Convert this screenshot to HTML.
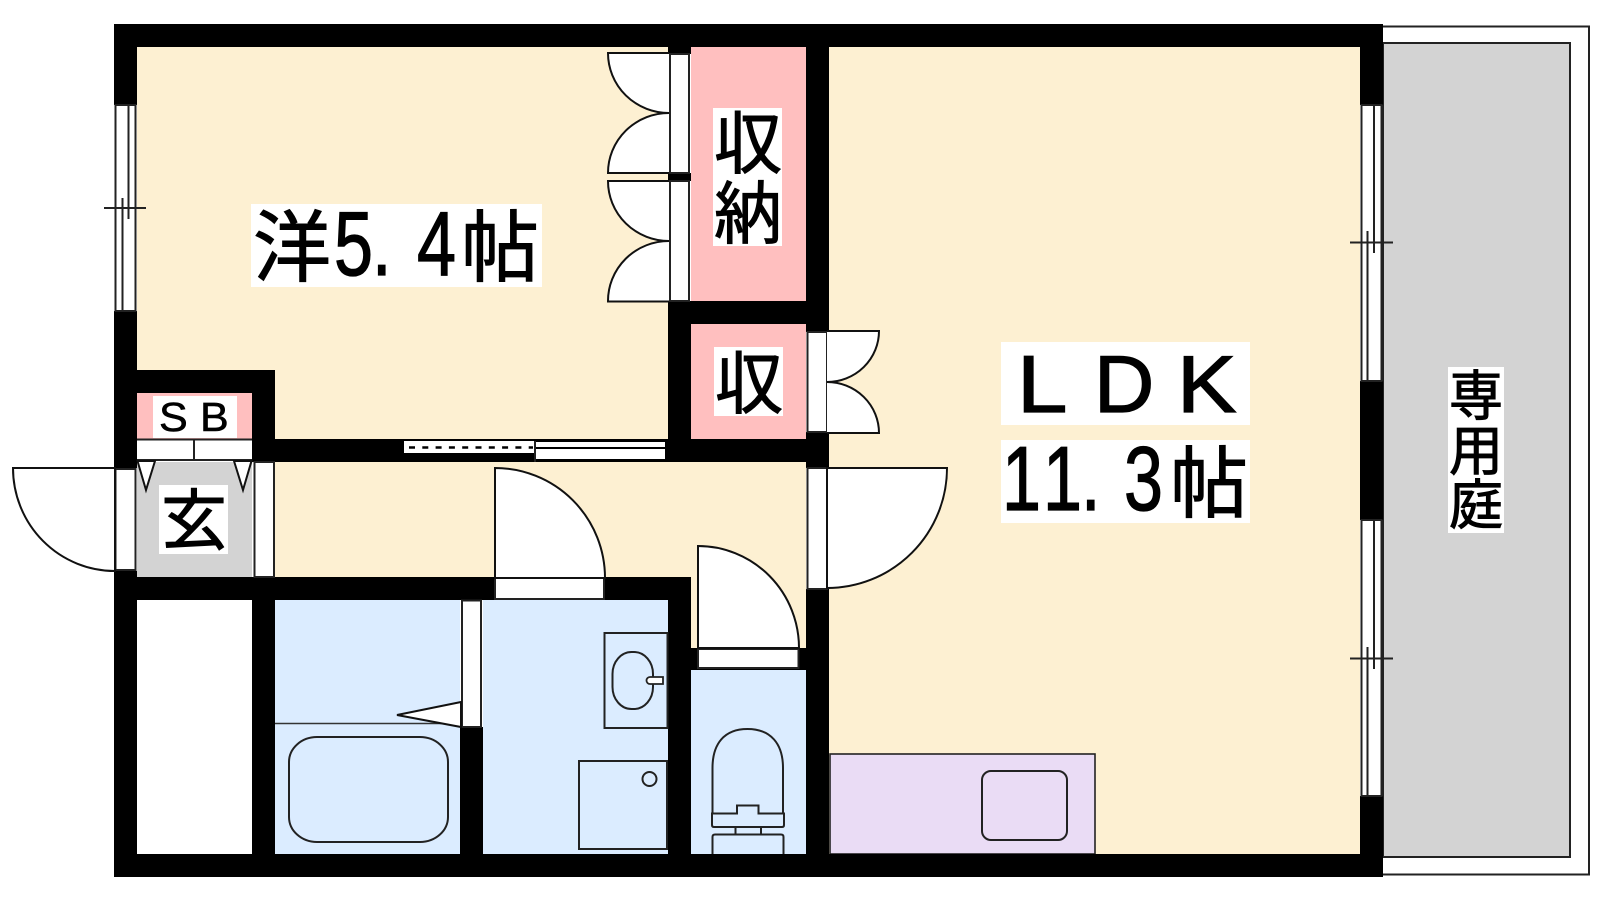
<!DOCTYPE html>
<html><head><meta charset="utf-8"><style>
html,body{margin:0;padding:0;background:#fff}
svg{display:block}
text{fill:#000;stroke:#000}
.j{font-family:"Liberation Sans","Noto Sans CJK JP",sans-serif;stroke-width:1}
.l{font-family:"Liberation Sans",sans-serif;stroke-width:1.3}
.k{stroke:#222;stroke-width:2;fill:none}
.d{stroke:#111;stroke-width:2;fill:#fff}
</style></head><body>
<svg width="1600" height="900" viewBox="0 0 1600 900" xmlns="http://www.w3.org/2000/svg">
<rect width="1600" height="900" fill="#fff"/>
<!-- balcony -->
<path d="M1383 26.5H1589V874.5H1383" class="k"/>
<rect x="1383" y="43" width="187" height="814" fill="#d3d3d3" stroke="#222" stroke-width="2"/>
<!-- floors -->
<rect x="137" y="47" width="531" height="392" fill="#fdf0d2"/>
<rect x="275" y="462" width="531" height="115" fill="#fdf0d2"/>
<rect x="691" y="577" width="115" height="71" fill="#fdf0d2"/>
<rect x="829" y="47" width="531" height="807" fill="#fdf0d2"/>
<rect x="691" y="47" width="115" height="254" fill="#ffbfbf"/>
<rect x="691" y="324" width="115" height="115" fill="#ffbfbf"/>
<rect x="137" y="393" width="115" height="46" fill="#ffbfbf"/>
<rect x="137" y="462" width="115" height="115" fill="#d3d3d3"/>
<rect x="275" y="600" width="185" height="254" fill="#dbecff"/>
<rect x="483" y="600" width="185" height="254" fill="#dbecff"/>
<rect x="691" y="670" width="115" height="184" fill="#dbecff"/>
<rect x="830" y="754" width="265" height="100" fill="#eadcf5" stroke="#222" stroke-width="1.6"/>
<rect x="982" y="771" width="85" height="69" rx="9" fill="none" class="k"/>
<!-- walls -->
<g fill="#000">
<rect x="114" y="24" width="1269" height="23"/>
<rect x="114" y="854" width="1269" height="23"/>
<rect x="114" y="24" width="23" height="81"/>
<rect x="114" y="311" width="23" height="157"/>
<rect x="114" y="571" width="23" height="306"/>
<rect x="1360" y="24" width="23" height="81"/>
<rect x="1360" y="381" width="23" height="139"/>
<rect x="1360" y="796" width="23" height="81"/>
<rect x="668" y="47" width="23" height="7"/>
<rect x="668" y="173" width="23" height="8"/>
<rect x="668" y="301" width="23" height="161"/>
<rect x="806" y="47" width="23" height="285"/>
<rect x="806" y="432" width="23" height="36"/>
<rect x="806" y="589" width="23" height="288"/>
<rect x="668" y="301" width="161" height="23"/>
<rect x="252" y="439" width="577" height="23"/>
<rect x="137" y="370" width="138" height="23"/>
<rect x="252" y="370" width="23" height="92"/>
<rect x="114" y="577" width="381" height="23"/>
<rect x="604" y="577" width="87" height="23"/>
<rect x="252" y="577" width="23" height="300"/>
<rect x="460" y="727" width="23" height="150"/>
<rect x="668" y="577" width="23" height="300"/>
<rect x="691" y="648" width="115" height="22"/>
</g>
<!-- white frames -->
<g fill="#fff" stroke="#222" stroke-width="2">
<rect x="115.5" y="105" width="20" height="206"/>
<rect x="1361.5" y="105" width="20" height="276"/>
<rect x="1361.5" y="520" width="20" height="276"/>
<rect x="115.5" y="469" width="20" height="101"/>
<rect x="254.5" y="462" width="19.5" height="115"/>
<rect x="670" y="54" width="19" height="119"/>
<rect x="670" y="181" width="19" height="120"/>
<rect x="807.5" y="332" width="19.5" height="100"/>
<rect x="807.5" y="468" width="19.5" height="121"/>
<rect x="462" y="600.5" width="19" height="126.500"/>
<rect x="495" y="578" width="109" height="21"/>
<rect x="698" y="649" width="100.500" height="19"/>
</g>
<!-- window mullions -->
<g class="k">
<path d="M128.500 105V219M122.500 198V311M104 208H146"/>
<path d="M1374 105V253M1367.500 231V381M1350 242.500H1393"/>
<path d="M1374 520V669M1367.500 647V796M1350 658.500H1393"/>
</g>
<!-- sliding door -->
<rect x="404" y="441" width="131" height="12" fill="#fff"/>
<path d="M409 447.500H533" stroke="#000" stroke-width="2.500" stroke-dasharray="6 7.300"/>
<rect x="536" y="442" width="129" height="5" fill="#fff"/>
<rect x="536" y="449" width="129" height="10" fill="#fff"/>
<path d="M535 441V462" stroke="#222" stroke-width="2"/>
<!-- door leaves -->
<g class="d">
<path d="M669 53H608A61 60 0 0 0 669 113A61 60 0 0 0 608 173H669"/>
<path d="M669 181H608A61 60 0 0 0 669 241A61 60 0 0 0 608 301.500H669"/>
<path d="M827 331H879A52 51 0 0 1 827 382A52 51 0 0 1 879 433H827"/>
<path d="M827 468H947A120 120 0 0 1 827 588Z"/>
<path d="M495 578V468A110 110 0 0 1 605 578Z"/>
<path d="M698 648V546A101 102 0 0 1 799 648Z"/>
<path d="M115 468H13A102 103 0 0 0 115 571Z"/>
</g>
<!-- shoe box -->
<rect x="137" y="439" width="115" height="21" fill="#fff"/>
<path d="M137 439.500H252M137 460H252M194 439V460" stroke="#222" stroke-width="2" fill="none"/>
<path d="M137.500 461L146 490L155 461Z M234 461L243 490L251.500 461Z" fill="#fff" stroke="#111" stroke-width="2"/>
<!-- bath -->
<path d="M275 723.500H460" stroke="#333" stroke-width="1.600"/>
<path d="M461 702L397 715L461 727Z" fill="#fff" stroke="#111" stroke-width="2"/>
<rect x="289" y="737" width="159" height="105" rx="28" ry="25" class="k"/>
<!-- washroom -->
<rect x="604.500" y="633" width="63" height="95" class="k"/>
<rect x="612.500" y="652" width="40.500" height="57" rx="19" ry="22" class="k"/>
<path d="M663 677H650A3.500 3.500 0 0 0 650 684H663Z" fill="#fff" stroke="#222" stroke-width="1.800"/>
<rect x="579" y="761" width="88" height="88" class="k"/>
<circle cx="649.500" cy="779" r="7" class="k"/>
<!-- toilet -->
<path d="M712.500 813V768C712.500 744 724 729 747.500 729C771 729 783 744 783 768V813" class="k"/>
<path d="M712 813.500H737V805.500H758.500V813.500H784V825Q784 827 782 827H714Q712 827 712 825Z" class="k"/>
<path d="M735.500 827V834M761 827V834" class="k"/>
<path d="M712.500 854V837Q712.500 834.500 715 834.500H781Q783.500 834.500 783.500 837V854" class="k"/>
<!-- label backgrounds -->
<g fill="#fff">
<rect x="251" y="204" width="291" height="83"/>
<rect x="1001" y="342" width="249" height="83"/>
<rect x="1001" y="440" width="249" height="83"/>
<rect x="713" y="108" width="69" height="138"/>
<rect x="714" y="347" width="69" height="69"/>
<rect x="153" y="396" width="84" height="42"/>
<rect x="159" y="485" width="69" height="69"/>
<rect x="1448" y="367" width="56" height="166"/>
</g>
<!-- labels -->
<text class="j" x="253" y="275" font-size="78">洋</text>
<text class="l" font-size="91" transform="translate(334 275) scale(.77 1)">5</text>
<text class="l" font-size="91" transform="translate(372 275) scale(.77 1)">.</text>
<text class="l" font-size="91" transform="translate(417 275) scale(.77 1)">4</text>
<text class="j" x="461" y="275" font-size="78">帖</text>
<text class="l" font-size="81" transform="translate(1017 412) scale(1.12 1)">L</text>
<text class="l" font-size="81" transform="translate(1094 412) scale(1.03 1)">D</text>
<text class="l" font-size="81" transform="translate(1177 412) scale(1.1 1)">K</text>
<text class="l" font-size="91" transform="translate(1002 510) scale(.77 1)">1</text>
<text class="l" font-size="91" transform="translate(1043 510) scale(.77 1)">1</text>
<text class="l" font-size="91" transform="translate(1081 510) scale(.77 1)">.</text>
<text class="l" font-size="91" transform="translate(1124 510) scale(.77 1)">3</text>
<text class="j" x="1170" y="511" font-size="78">帖</text>
<text class="j" x="714" y="168" font-size="68">収</text>
<text class="j" x="714" y="238" font-size="68">納</text>
<text class="j" x="715" y="408" font-size="68">収</text>
<text class="j" x="161" y="544" font-size="66">玄</text>
<text class="l" font-size="41" transform="translate(159 431) scale(1.05 1)" style="stroke-width:.6">S</text>
<text class="l" font-size="41" transform="translate(200 431) scale(1.05 1)" style="stroke-width:.6">B</text>
<text class="j" x="1449" y="415" font-size="54">専</text>
<text class="j" x="1449" y="470" font-size="54">用</text>
<text class="j" x="1449" y="524" font-size="54">庭</text>
</svg>
</body></html>
